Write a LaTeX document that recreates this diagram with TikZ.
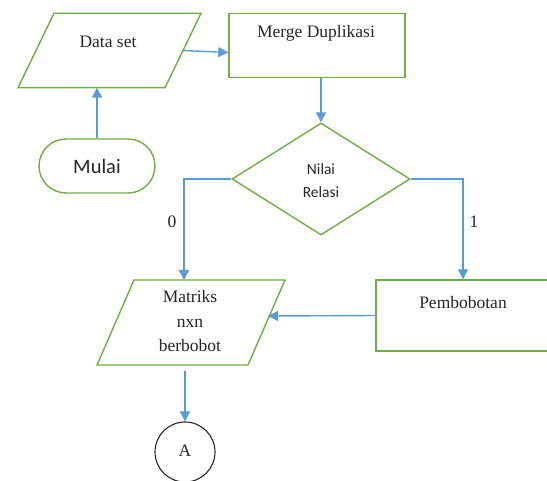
\documentclass[tikz,border=0pt]{standalone}
\usepackage{fontspec}
\setmainfont{Liberation Serif}
\newfontfamily\calibri{Carlito}
\usetikzlibrary{shapes.geometric,shapes.misc,arrows.meta,calc}
\definecolor{boxgreen}{RGB}{112,173,71}
\definecolor{arrowblue}{RGB}{91,155,213}
\begin{document}
\begin{tikzpicture}[x=1pt,y=-1pt,
  txt/.style={text=black!85,font=\fontsize{17.5}{24.5}\selectfont,inner sep=0pt,align=center},
  shp/.style={draw=boxgreen,line width=1.4pt,inner sep=0pt},
  flow/.style={draw=arrowblue,line width=1.4pt,-{Triangle[length=10pt,width=10pt]}}
]
\clip (0,0) rectangle (547,481);
\useasboundingbox (0,0) rectangle (547,481);
% Data set parallelogram
\draw[shp,line join=miter] (54,13.3) -- (201,13.3) -- (165,87.7) -- (18,87.7) -- cycle;
\node[txt] (dst) at (108,41.7) {Data set};
\coordinate (dsE) at (183,50.5);
\coordinate (dsS) at (97,87.7);
% Merge
\node[shp,rectangle,minimum width=176pt,minimum height=64.4pt] (merge) at (317,45.5) {};
\node[txt] (merget) at (316,33.3) {Merge Duplikasi};
% Mulai
\node[shp,rounded rectangle,minimum width=116pt,minimum height=54pt] (mulai) at (97,166)
  {\calibri\fontsize{20.5}{24}\selectfont\color{black!85}Mulai};
% Decision
\node[shp,diamond,minimum width=178pt,minimum height=112pt,aspect=1.59] (dia) at (321,179) {};
\node[txt,font=\calibri\fontsize{15.5}{23.5}\selectfont] (diat) at (321,180.5) {Nilai\\Relasi};
% Matriks parallelogram
\draw[shp,line join=miter] (134,280) -- (285,280) -- (248,365) -- (97,365) -- cycle;
\node[txt] (matt) at (190,321.5) {Matriks\\nxn\\berbobot};
\coordinate (matN) at (184,280);
\coordinate (matE) at (268,316);
\coordinate (matS) at (185,371);
% Pembobotan
\node[shp,rectangle,minimum width=174pt,minimum height=71pt] (pemb) at (463,315.5) {};
\node[txt] (pembt) at (463,303) {Pembobotan};
% Connector A
\node[draw=black!85,line width=1.1pt,circle,minimum size=60pt,inner sep=0pt] (circ) at (185,452) {};
\node[txt] (circt) at (185,451) {A};
% branch coordinate
\coordinate (c0) at (184,179);
% labels
\node[txt] (l0) at (172,222) {0};
\node[txt] (l1) at (474,222) {1};
% connectors
\draw[flow] (dsE) -- ($(merge.west)+(0,7)$);
\draw[flow] (mulai.north) -- (mulai.north |- dsS);
\draw[flow] (merge.south -| dia.north) -- (dia.north);
\draw[flow] (dia.west) -- (c0) -- (matN);
\draw[flow] (dia.east) -| (pemb.north);
\draw[flow] (pemb.west) -- (matE);
\draw[flow] (matS) -- (circ.north);
\end{tikzpicture}
\end{document}
